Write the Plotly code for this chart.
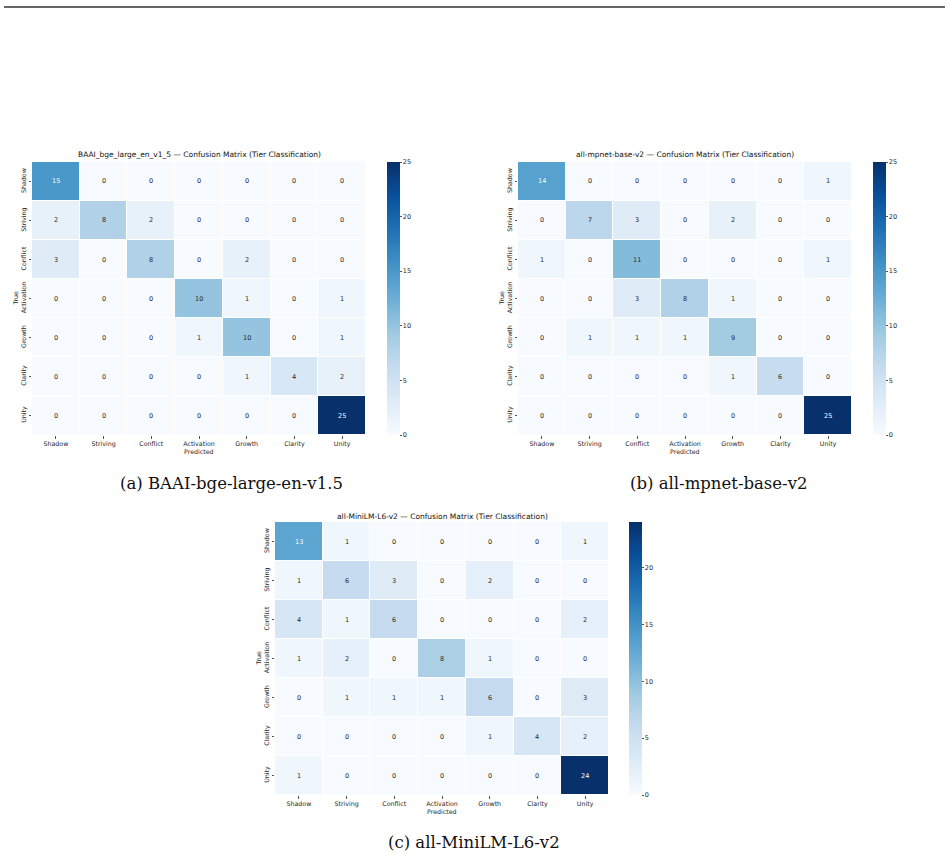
import plotly.graph_objects as go

W, H = 948, 859

labels = ["Shadow", "Striving", "Conflict", "Activation", "Growth", "Clarity", "Unity"]

cm_bge = [
    [15, 0, 0, 0, 0, 0, 0],
    [2, 8, 2, 0, 0, 0, 0],
    [3, 0, 8, 0, 2, 0, 0],
    [0, 0, 0, 10, 1, 0, 1],
    [0, 0, 0, 1, 10, 0, 1],
    [0, 0, 0, 0, 1, 4, 2],
    [0, 0, 0, 0, 0, 0, 25],
]
cm_mpnet = [
    [14, 0, 0, 0, 0, 0, 1],
    [0, 7, 3, 0, 2, 0, 0],
    [1, 0, 11, 0, 0, 0, 1],
    [0, 0, 3, 8, 1, 0, 0],
    [0, 1, 1, 1, 9, 0, 0],
    [0, 0, 0, 0, 1, 6, 0],
    [0, 0, 0, 0, 0, 0, 25],
]
cm_minilm = [
    [13, 1, 0, 0, 0, 0, 1],
    [1, 6, 3, 0, 2, 0, 0],
    [4, 1, 6, 0, 0, 0, 2],
    [1, 2, 0, 8, 1, 0, 0],
    [0, 1, 1, 1, 6, 0, 3],
    [0, 0, 0, 0, 1, 4, 2],
    [1, 0, 0, 0, 0, 0, 24],
]
titles = [
    "BAAI_bge_large_en_v1_5 — Confusion Matrix (Tier Classification)",
    "all-mpnet-base-v2 — Confusion Matrix (Tier Classification)",
    "all-MiniLM-L6-v2 — Confusion Matrix (Tier Classification)",
]
captions = ["(a) BAAI-bge-large-en-v1.5", "(b) all-mpnet-base-v2", "(c) all-MiniLM-L6-v2"]
cbar_ticks = [0, 5, 10, 15, 20, 25]

blues = ["#f7fbff", "#deebf7", "#c6dbef", "#9ecae1", "#6baed6",
         "#4292c6", "#2171b5", "#08519c", "#08306b"]
colorscale = [[i / (len(blues) - 1), c] for i, c in enumerate(blues)]


def hex2rgb(h):
    h = h.lstrip("#")
    return [int(h[i:i + 2], 16) for i in (0, 2, 4)]


def cmap(t):
    t = min(max(t, 0.0), 1.0)
    p = t * (len(blues) - 1)
    i = min(int(p), len(blues) - 2)
    f = p - i
    a, b = hex2rgb(blues[i]), hex2rgb(blues[i + 1])
    return [a[k] + (b[k] - a[k]) * f for k in range(3)]


def lum(rgb):
    out = []
    for c in rgb:
        c = c / 255
        out.append(c / 12.92 if c <= 0.03928 else ((c + 0.055) / 1.055) ** 2.4)
    return 0.2126 * out[0] + 0.7152 * out[1] + 0.0722 * out[2]


def px(x):
    return x / W


def py(y):
    return 1 - y / H


# panel geometry in pixels: (left, right, top, bottom, colorbar_left, caption_x, caption_y, title_y)
panels = [
    (32, 366, 162, 435, 387, 231, 483, 155),
    (518, 852, 162, 435, 873, 718, 483, 155),
    (275, 609, 522, 795, 629, 474, 842, 516),
]
mats = [cm_bge, cm_mpnet, cm_minilm]

fig = go.Figure()
annotations = []
TXT = "#262626"
FONT = "DejaVu Sans"

for k, (mat, title, cap, geo) in enumerate(zip(mats, titles, captions, panels)):
    L, R, T, B, CB, CX, CY, TY = geo
    zmax = max(max(r) for r in mat)
    sfx = "" if k == 0 else str(k + 1)
    fig.add_trace(go.Heatmap(
        z=mat, x=labels, y=labels, zmin=0, zmax=zmax,
        colorscale=colorscale, xgap=1, ygap=1,
        xaxis="x" + sfx, yaxis="y" + sfx, hoverinfo="skip",
        colorbar=dict(
            x=px(CB), xanchor="left", xpad=0, y=py(B), yanchor="bottom", ypad=0,
            len=(B - T) / H, lenmode="fraction", thickness=13, thicknessmode="pixels",
            outlinewidth=0, ticks="outside", ticklen=2, tickwidth=0.7, tickcolor="#555",
            tickvals=[v for v in cbar_ticks if v <= zmax],
            tickfont=dict(size=6.5, color=TXT, family=FONT),
        ),
    ))
    fig.layout["xaxis" + sfx] = dict(
        domain=[px(L), px(R)], anchor="y" + sfx, type="category",
        showgrid=False, zeroline=False, showline=False,
        ticks="outside", ticklen=2.5, tickwidth=0.7, tickcolor="#555",
        tickfont=dict(size=6.3, color=TXT, family=FONT), tickangle=0,
    )
    fig.layout["yaxis" + sfx] = dict(
        domain=[py(B), py(T)], anchor="x" + sfx, type="category",
        autorange="reversed",
        showgrid=False, zeroline=False, showline=False,
        ticks="outside", ticklen=2.5, tickwidth=0.7, tickcolor="#555",
        tickfont=dict(size=6.3, color=TXT, family=FONT), tickangle=-90,
    )
    for i, row in enumerate(mat):
        for j, v in enumerate(row):
            col = "white" if lum(cmap(v / zmax)) < 0.408 else TXT
            annotations.append(dict(
                x=labels[j], y=labels[i], xref="x" + sfx, yref="y" + sfx,
                text=str(v), showarrow=False,
                font=dict(size=6.5, color=col, family=FONT),
            ))
    common = dict(xref="paper", yref="paper", showarrow=False,
                  xanchor="center", yanchor="middle")
    annotations.append(dict(
        x=px((L + R) / 2), y=py(TY), text=title,
        font=dict(size=7.5, color="#111", family=FONT), **common,
    ))
    annotations.append(dict(
        x=px((L + R) / 2), y=py(B + 16), text="Predicted",
        font=dict(size=6.3, color=TXT, family=FONT), **common,
    ))
    annotations.append(dict(
        x=px(L - 17), y=py((T + B) / 2), text="True", textangle=-90,
        font=dict(size=6.3, color=TXT, family=FONT), **common,
    ))
    annotations.append(dict(
        x=px(CX), y=py(CY), text=cap,
        font=dict(size=16.5, color="#111", family="DejaVu Serif"), **common,
    ))

fig.update_layout(
    width=W, height=H, margin=dict(l=0, r=0, t=0, b=0),
    paper_bgcolor="white", plot_bgcolor="white",
    annotations=annotations,
    shapes=[dict(type="line", xref="paper", yref="paper",
                 x0=px(4), x1=px(945), y0=py(7), y1=py(7),
                 line=dict(color="#333", width=1.5))],
)

fig.write_html("out.html")
